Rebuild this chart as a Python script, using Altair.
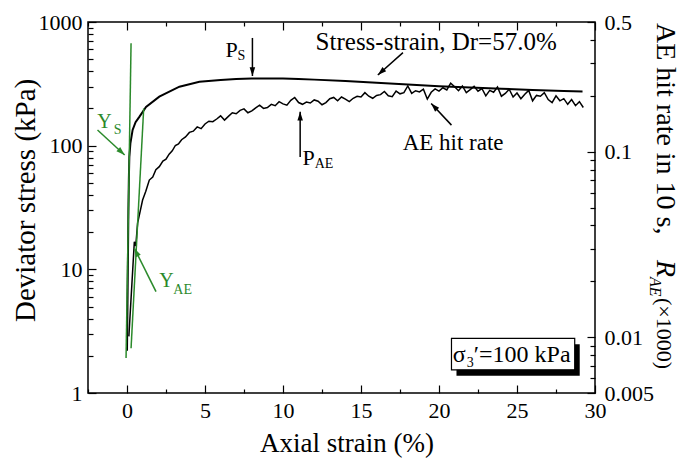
import altair as alt
import pandas as pd

# ---------------- data ----------------
# stress-strain curve (left axis, kPa)
stress_strain = [0.0, 0.03, 0.06, 0.09, 0.12, 0.15, 0.22, 0.36, 0.55, 0.79, 1.22, 2.07, 3.36, 4.64,
                 6.0, 7.0, 8.0, 9.0, 10.0, 11.0, 12.0, 14.0, 16.0, 18.0, 20.0, 22.0, 24.0, 26.0, 28.0, 29.2]
stress_kpa = [2.2, 5, 12, 30, 55, 81, 105, 134, 155, 171, 206, 249, 300, 329,
              340, 346, 349, 350, 349, 346, 342, 333, 322, 312, 303, 296, 289, 282, 277, 274]

# AE hit rate (right axis)
ae_strain = [0.12, 0.47, 0.56, 0.68, 0.85, 1.0, 1.2, 1.43, 1.65, 1.85, 2.07, 2.3, 2.5, 2.7, 2.9, 3.1, 3.3,
             3.5, 3.75, 4.0, 4.25, 4.5, 4.75, 5.0, 5.25, 5.5, 5.75, 6.0, 6.25, 6.5, 6.75, 7.0, 7.25,
             7.5, 7.75, 8.0, 8.25, 8.5, 8.75, 9.0, 9.25, 9.5, 9.75, 10.0, 10.25, 10.5, 10.75, 11.0, 11.25,
             11.5, 11.75, 12.0, 12.25, 12.5, 12.75, 13.0, 13.25, 13.5, 13.75, 14.0, 14.25, 14.5, 14.75,
             15.0, 15.25, 15.5, 15.75, 16.0, 16.25, 16.5, 16.75, 17.0, 17.25, 17.5, 17.75, 18.0, 18.25,
             18.5, 18.75, 19.0, 19.25, 19.5, 19.75, 20.0, 20.25, 20.5, 20.75, 21.0, 21.25, 21.5, 21.75,
             22.0, 22.25, 22.5, 22.75, 23.0, 23.25, 23.5, 23.75, 24.0, 24.25, 24.5, 24.75, 25.0, 25.25,
             25.5, 25.75, 26.0, 26.25, 26.5, 26.75, 27.0, 27.25, 27.5, 27.75, 28.0, 28.25, 28.5, 28.75,
             29.0, 29.25]
ae_rate = [0.0101, 0.0327, 0.031, 0.0412, 0.048, 0.0549, 0.061, 0.0703, 0.073, 0.080, 0.083, 0.089,
           0.091, 0.097, 0.101, 0.108, 0.110,
           0.116, 0.120, 0.127, 0.129, 0.136, 0.133, 0.141, 0.146, 0.145, 0.150, 0.156, 0.148,
           0.155, 0.162, 0.160, 0.167, 0.170, 0.162, 0.166, 0.172, 0.178, 0.171, 0.173, 0.180,
           0.177, 0.186, 0.181, 0.178, 0.189, 0.196, 0.184, 0.180, 0.185, 0.183, 0.190, 0.187,
           0.179, 0.184, 0.193, 0.196, 0.188, 0.197, 0.192, 0.186, 0.194, 0.199, 0.197, 0.208,
           0.199, 0.194, 0.201, 0.203, 0.211, 0.200, 0.198, 0.212, 0.205, 0.208, 0.226, 0.206,
           0.213, 0.210, 0.217, 0.192, 0.209, 0.218, 0.212, 0.221, 0.215, 0.234, 0.224, 0.213,
           0.226, 0.208, 0.216, 0.225, 0.212, 0.219, 0.200, 0.214, 0.209, 0.223, 0.199, 0.206,
           0.217, 0.197, 0.207, 0.193, 0.204, 0.214, 0.188, 0.201, 0.199, 0.208, 0.191, 0.184,
           0.200, 0.188, 0.193, 0.180, 0.191, 0.177, 0.186, 0.173]

# green tangent lines (left-axis units)
tan_s_strain = [-0.06, 0.26]
tan_s_kpa = [1.92, 673]
tan_ae_strain = [0.26, 1.07]
tan_ae_kpa = [2.30, 200]

# tick values
x_major = [0, 5, 10, 15, 20, 25, 30]
x_minor = [-2.5, 2.5, 7.5, 12.5, 17.5, 22.5, 27.5]
yl_major = [1, 10, 100, 1000]
yl_minor = [2, 3, 4, 5, 6, 7, 8, 9, 20, 30, 40, 50, 60, 70, 80, 90, 200, 300, 400, 500, 600, 700, 800, 900]
yr_major = [0.005, 0.01, 0.1, 0.5]
yr_minor = [0.006, 0.007, 0.008, 0.009, 0.02, 0.03, 0.04, 0.05, 0.06, 0.07, 0.08, 0.09, 0.2, 0.3, 0.4]

# annotation texts (left-axis units)
ann_text = ["Y", "Y", "P", "P", "Stress-strain, Dr=57.0%", "AE hit rate", "\u03c3", "\u2032=100 kPa"]
ann_x = [-1.90, 2.07, 6.31, 11.25, 12.09, 17.67, 20.88, 22.23]
ann_y = [139, 7.2, 521, 69.8, 594, 92.3, 1.78, 1.78]
ann_color = ["#2b8a2b", "#2b8a2b", "black", "black", "black", "black", "black", "black"]
ann_size = [20, 20, 22, 22, 25, 23, 24, 24]

sub_text = ["S", "AE", "S", "AE", "3"]
sub_x = [-0.85, 2.97, 7.08, 12.03, 21.78]
sub_y = [124.3, 6.33, 493, 66.1, 1.63]
sub_color = ["#2b8a2b", "#2b8a2b", "black", "black", "black"]

# arrows (left-axis units): start -> tip
arr_x = [-1.89, 1.86, 8.04, 11.1, 17.69]
arr_y = [134, 6.6, 743, 81, 565]
arr_x2 = [-0.15, 0.47, 8.04, 11.1, 16.08]
arr_y2 = [84, 14.8, 366, 188, 373]
arr_angle = [133, 333, 180, 0, 228]
arr_color = ["#2b8a2b", "#2b8a2b", "black", "black", "black"]
# arrow to AE curve (right-axis units)
arr_ae_x = [20.8]
arr_ae_y = [0.139]
arr_ae_x2 = [19.5]
arr_ae_y2 = [0.182]
arr_ae_angle = [317]

# sigma box (left-axis units)
box_x = [20.8]
box_x2 = [28.7]
box_y = [1.54]
box_y2 = [2.77]

# ---------------- chart ----------------
FONT = "Liberation Serif"
GREEN = "#2b8a2b"
W, H = 507, 371
X_DOM = [-2.5, 30]
YL_DOM = [1, 1000]
YR_DOM = [0.005, 0.5]
HEAD = "M0,0L-0.32,1L0.32,1Z"


def X(field, axis=None):
    return alt.X(field, type="quantitative",
                 scale=alt.Scale(domain=X_DOM, nice=False, zero=False), axis=axis)


def YL(field, axis=None):
    return alt.Y(field, type="quantitative",
                 scale=alt.Scale(type="log", domain=YL_DOM, nice=False), axis=axis)


def YR(field, axis=None):
    return alt.Y(field, type="quantitative",
                 scale=alt.Scale(type="log", domain=YR_DOM, nice=False), axis=axis)


def tick_axis(orient, values, size, labels=False, pad=6):
    kw = dict(orient=orient, values=values, tickSize=size, offset=-size, domain=False,
              grid=False, labels=labels, title=None, ticks=True, tickColor="black",
              tickWidth=1.2)
    if labels:
        kw.update(format="~g", labelFont=FONT, labelFontSize=22, labelColor="black",
                  labelPadding=pad, labelOverlap=False, labelFlush=False)
    return alt.Axis(**kw)


stress_df = pd.DataFrame({"x": stress_strain, "y": stress_kpa})
ae_df = pd.DataFrame({"x": ae_strain, "y": ae_rate})
tan_s_df = pd.DataFrame({"x": tan_s_strain, "y": tan_s_kpa})
tan_ae_df = pd.DataFrame({"x": tan_ae_strain, "y": tan_ae_kpa})
ann_df = pd.DataFrame({"x": ann_x, "y": ann_y, "t": ann_text, "c": ann_color, "s": ann_size})
sub_df = pd.DataFrame({"x": sub_x, "y": sub_y, "t": sub_text, "c": sub_color})
arr_df = pd.DataFrame({"x": arr_x, "y": arr_y, "x2": arr_x2, "y2": arr_y2,
                       "a": arr_angle, "c": arr_color})
arr_ae_df = pd.DataFrame({"x": arr_ae_x, "y": arr_ae_y, "x2": arr_ae_x2, "y2": arr_ae_y2,
                          "a": arr_ae_angle})
box_df = pd.DataFrame({"x": box_x, "x2": box_x2, "y": box_y, "y2": box_y2})

stress = alt.Chart(stress_df).mark_line(color="black", strokeWidth=2).encode(
    x=X("x", tick_axis("bottom", x_major, 8, labels=True, pad=7)),
    y=YL("y", tick_axis("left", yl_major, 8, labels=True, pad=6)),
    order="x:Q",
)
ae = alt.Chart(ae_df).mark_line(color="black", strokeWidth=1.5).encode(
    x=X("x", tick_axis("top", x_major, 8)),
    y=YR("y", tick_axis("right", yr_major, 8, labels=True, pad=9)),
    order="x:Q",
)
tan1 = alt.Chart(tan_s_df).mark_line(color=GREEN, strokeWidth=1.5).encode(
    x=X("x", tick_axis("bottom", x_minor, 4)),
    y=YL("y", tick_axis("left", yl_minor, 5)),
)
tan2 = alt.Chart(tan_ae_df).mark_line(color=GREEN, strokeWidth=1.5).encode(
    x=X("x", tick_axis("top", x_minor, 4)),
    y=YL("y"),
)
arrows = alt.Chart(arr_df).mark_rule(strokeWidth=1.5).encode(
    x=X("x"), x2="x2", y=YL("y"), y2="y2", color=alt.Color("c:N", scale=None))
heads = alt.Chart(arr_df).mark_point(shape=HEAD, filled=True, size=300, opacity=1).encode(
    x=X("x2"), y=YL("y2"), angle=alt.Angle("a:Q", scale=None),
    color=alt.Color("c:N", scale=None))
arrow_ae = alt.Chart(arr_ae_df).mark_rule(strokeWidth=1.5, color="black").encode(
    x=X("x"), x2="x2", y=YR("y", tick_axis("right", yr_minor, 5)), y2="y2")
head_ae = alt.Chart(arr_ae_df).mark_point(shape=HEAD, filled=True, size=300, opacity=1,
                                          color="black").encode(
    x=X("x2"), y=YR("y2"), angle=alt.Angle("a:Q", scale=None))
shadow = alt.Chart(box_df).mark_rect(color="black", xOffset=5, x2Offset=5, yOffset=6,
                                     y2Offset=6).encode(
    x=X("x"), x2="x2", y=YL("y"), y2="y2")
box = alt.Chart(box_df).mark_rect(fill="white", stroke="black", strokeWidth=1.2).encode(
    x=X("x"), x2="x2", y=YL("y"), y2="y2")
texts = alt.Chart(ann_df).mark_text(align="left", baseline="alphabetic", font=FONT).encode(
    x=X("x"), y=YL("y"), text="t:N", color=alt.Color("c:N", scale=None),
    size=alt.Size("s:Q", scale=None))
subs = alt.Chart(sub_df).mark_text(align="left", baseline="alphabetic", font=FONT,
                                   fontSize=14).encode(
    x=X("x"), y=YL("y"), text="t:N", color=alt.Color("c:N", scale=None))

# axis titles
one = pd.DataFrame({"k": [0]})
title_x = alt.Chart(one).mark_text(text="Axial strain (%)", font=FONT, fontSize=27,
                                   align="left", baseline="alphabetic").encode(
    x=alt.value(172), y=alt.value(430))
title_l = alt.Chart(one).mark_text(text="Deviator stress (kPa)", font=FONT, fontSize=29,
                                   align="left", baseline="alphabetic", angle=270).encode(
    x=alt.value(-53), y=alt.value(300))
title_r1 = alt.Chart(one).mark_text(text="AE hit rate in 10 s, ", font=FONT, fontSize=28,
                                    align="left", baseline="alphabetic", angle=90).encode(
    x=alt.value(569), y=alt.value(1))
title_r2 = alt.Chart(one).mark_text(text="R", font=FONT, fontSize=28, fontStyle="italic",
                                    align="left", baseline="alphabetic", angle=90).encode(
    x=alt.value(569), y=alt.value(238))
title_r3 = alt.Chart(one).mark_text(text="AE", font=FONT, fontSize=16, fontStyle="italic",
                                    align="left", baseline="alphabetic", angle=90).encode(
    x=alt.value(562), y=alt.value(255))
title_r4 = alt.Chart(one).mark_text(text="(\u00d71000)", font=FONT, fontSize=22,
                                    align="left", baseline="alphabetic", angle=90).encode(
    x=alt.value(569), y=alt.value(276))

chart = alt.layer(
    stress, ae, tan1, tan2, arrows, heads, arrow_ae, head_ae, shadow, box, texts, subs,
    title_x, title_l, title_r1, title_r2, title_r3, title_r4,
).resolve_scale(x="independent", y="independent").resolve_axis(
    x="independent", y="independent"
).properties(
    width=W, height=H,
    autosize=alt.AutoSizeParams(type="none"),
    padding={"left": 88, "top": 22, "right": 87, "bottom": 68},
    background="white",
).configure_view(stroke="black", strokeWidth=1.5)

chart.save("out.html", embed_options={"renderer": "svg", "actions": False})
